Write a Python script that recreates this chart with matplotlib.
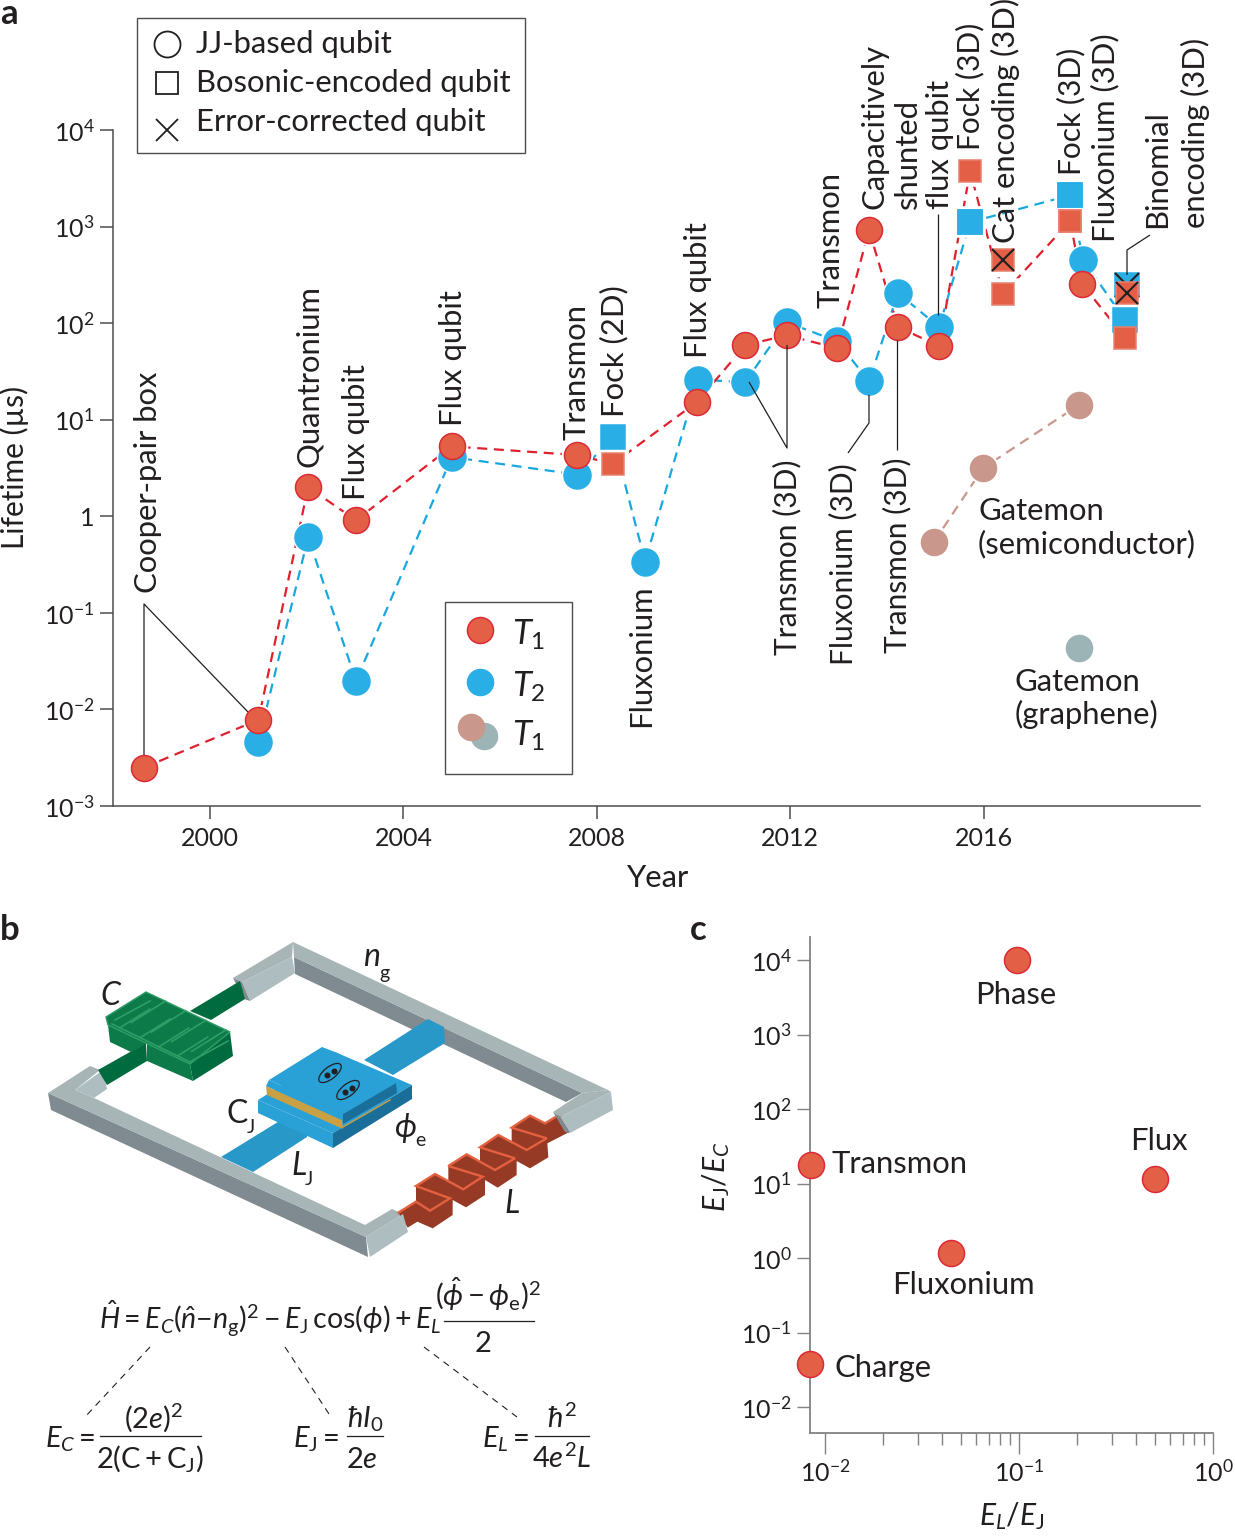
import numpy as np
import matplotlib
matplotlib.use("Agg")
import matplotlib.pyplot as plt
from matplotlib.patches import Polygon, Rectangle, Ellipse

plt.rcParams['font.family'] = ['Lato', 'DejaVu Sans']
plt.rcParams['mathtext.fontset'] = 'custom'
plt.rcParams['mathtext.rm'] = 'Lato'
plt.rcParams['mathtext.it'] = 'Lato:italic'
plt.rcParams['mathtext.bf'] = 'Lato:bold'

W, H = 1235, 1537

# Panel a data (lifetime in microseconds)
t1_years = [1998.63, 2001.0, 2002.03, 2003.02, 2005.0, 2007.6, 2008.33, 2010.07, 2011.07, 2011.93,
            2012.97, 2013.63, 2014.23, 2015.08, 2015.72, 2016.4, 2017.79, 2018.04, 2018.93]
t1_values = [0.0025, 0.0078, 2.0, 0.91, 5.3, 4.3, 3.5, 15.2, 59, 75,
             55, 918, 91, 58, 3750, 200, 1138, 253, 70]
t1_square = [False, False, False, False, False, False, True, False, False, False,
             False, False, False, False, True, True, True, False, True]

t2_years = [2001.0, 2002.03, 2003.02, 2005.0, 2007.6, 2008.33, 2009.0, 2010.09, 2011.07, 2011.93,
            2012.97, 2013.63, 2014.23, 2015.08, 2015.72, 2017.79, 2018.06, 2018.93]
t2_values = [0.0046, 0.61, 0.0197, 4.1, 2.7, 6.6, 0.34, 26, 24.5, 102,
             65, 25, 205, 91, 1110, 2110, 449, 107]
t2_square = [False, False, False, False, False, True, False, False, False, False,
             False, False, False, False, True, True, False, True]

# error-corrected qubits
cat_year, cat_t1 = 2016.4, 449
binomial_year, binomial_t1, binomial_t2 = 2018.97, 205, 247

semi_years = [2014.97, 2015.99, 2017.97]
semi_values = [0.54, 3.16, 14.2]
graphene_year, graphene_value = 2017.97, 0.043

a_ticks_x = [2000, 2004, 2008, 2012, 2016]
a_ticks_y = [1e-3, 1e-2, 1e-1, 1, 1e1, 1e2, 1e3, 1e4]
a_ticks_y_labels = [r'$\mathregular{10^{-3}}$', r'$\mathregular{10^{-2}}$', r'$\mathregular{10^{-1}}$', '1',
                    r'$\mathregular{10^{1}}$', r'$\mathregular{10^{2}}$', r'$\mathregular{10^{3}}$',
                    r'$\mathregular{10^{4}}$']

# Panel c data
regime_names = ['Transmon', 'Phase', 'Flux', 'Fluxonium', 'Charge']
regime_el_ej = [0.00847, 0.0977, 0.502, 0.0446, 0.00837]
regime_ej_ec = [17.7, 10000, 11.5, 1.17, 0.0378]
c_ticks_x = [1e-2, 1e-1, 1]
c_ticks_x_labels = [r'$\mathregular{10^{-2}}$', r'$\mathregular{10^{-1}}$', r'$\mathregular{10^{0}}$']
c_ticks_y = [1e-2, 1e-1, 1, 1e1, 1e2, 1e3, 1e4]
c_ticks_y_labels = [r'$\mathregular{10^{-2}}$', r'$\mathregular{10^{-1}}$', r'$\mathregular{10^{0}}$',
                    r'$\mathregular{10^{1}}$', r'$\mathregular{10^{2}}$', r'$\mathregular{10^{3}}$',
                    r'$\mathregular{10^{4}}$']

RED, RED_EDGE, SQ_EDGE = '#e35f46', '#dc2a35', '#e8806f'
BLUE = '#29afe6'
RED_LINE, BLUE_LINE = '#e0202e', '#18a8e0'
ROSE, GREY = '#c9978c', '#9cb4b6'
TEXT = '#231f20'
PX = 72 / 100  # points per pixel at dpi 100
FS = 22.3


def axes_at(x0, y0, x1, y1):
    return fig.add_axes([x0 / W, 1 - y1 / H, (x1 - x0) / W, (y1 - y0) / H])


def dot(ax, x, y, color, edge=None, size=26, marker='o', z=3):
    ax.plot([x], [y], marker=marker, ms=size * PX, mfc=color, mec=edge or color, mew=1.1,
            ls='none', zorder=z, clip_on=False)


fig = plt.figure(figsize=(W / 100, H / 100), dpi=100)

# ---- panel a
ax = axes_at(113, 130, 1200, 806)
ax.set_yscale('log')
ax.set_ylim(1e-3, 1e4)
ax.set_xlim(2000 + (113 - 210) / 48.35, 2000 + (1200 - 210) / 48.35)
for s in ['top', 'right']:
    ax.spines[s].set_visible(False)
for s in ['left', 'bottom']:
    ax.spines[s].set_color('#4d4d4f')
    ax.spines[s].set_linewidth(1.1)
ax.set_xticks(a_ticks_x)
ax.set_yticks(a_ticks_y)
ax.set_yticklabels(a_ticks_y_labels)
ax.minorticks_off()
ax.tick_params(length=13 * PX, width=1.1, color='#4d4d4f', labelsize=18, labelcolor=TEXT, pad=4)
ax.tick_params(axis='x', pad=6)
ax.patch.set_alpha(0)

dash = (0, (4.5, 3))
ax.plot(t2_years, t2_values, color=BLUE_LINE, lw=1.6, ls=dash, zorder=2)
ax.plot(t1_years, t1_values, color=RED_LINE, lw=1.6, ls=dash, zorder=2)
ax.plot(semi_years, semi_values, color=ROSE, lw=1.6, ls=dash, zorder=2)

# white halo so the dashes stop short of the markers
for xs, ys, sq in [(t2_years, t2_values, t2_square), (t1_years, t1_values, t1_square)]:
    for x, y, s in zip(xs, ys, sq):
        dot(ax, x, y, 'white', size=30, marker='s' if s else 'o', z=2.5)
for x, y in zip(semi_years, semi_values):
    dot(ax, x, y, 'white', size=30, z=2.5)

# binomial T2 stays under everything else at that spot
dot(ax, binomial_year, binomial_t2, BLUE, size=24, marker='s', z=3)
ax.plot([binomial_year], [binomial_t2], marker='x', ms=24 * PX, mec='#231f20', mew=1.5, ls='none', zorder=3.1)
for x, y, s in zip(t2_years, t2_values, t2_square):
    dot(ax, x, y, BLUE, size=24 if s else 27, marker='s' if s else 'o', z=3.2)
for x, y, s in zip(t1_years, t1_values, t1_square):
    if s:
        dot(ax, x, y, RED, SQ_EDGE, size=23, marker='s', z=3.4)
    else:
        dot(ax, x, y, RED, RED_EDGE, size=26, z=3.4)
# fock T2 squares sit on top of the neighbouring T1 where they overlap
dot(ax, t2_years[14], t2_values[14], BLUE, size=24, marker='s', z=3.5)
dot(ax, t2_years[15], t2_values[15], BLUE, size=24, marker='s', z=3.5)
dot(ax, t1_years[16], t1_values[16], RED, SQ_EDGE, size=23, marker='s', z=3.6)

for x, y in [(cat_year, cat_t1), (binomial_year, binomial_t1)]:
    dot(ax, x, y, RED, SQ_EDGE, size=23, marker='s', z=4)
    ax.plot([x], [y], marker='x', ms=23 * PX, mec='#231f20', mew=1.5, ls='none', zorder=4.1)

for x, y in zip(semi_years, semi_values):
    dot(ax, x, y, ROSE, size=26, z=3)
dot(ax, graphene_year, graphene_value, GREY, size=26, z=3)

# ---- panel c
cx = axes_at(810, 937, 1213, 1433)
cx.set_xscale('log')
cx.set_yscale('log')
cx.set_xlim(10 ** (-2 - 15 / 194), 1)
cx.set_ylim(10 ** (-2 - 26 / 74.5), 10 ** (4 + 23 / 74.5))
for s in ['top', 'right']:
    cx.spines[s].set_visible(False)
for s in ['left', 'bottom']:
    cx.spines[s].set_color('#808285')
    cx.spines[s].set_linewidth(1.3)
cx.set_xticks(c_ticks_x)
cx.set_xticklabels(c_ticks_x_labels)
cx.set_xticks([m * d for d in (1e-2, 1e-1) for m in range(2, 10)], minor=True)
cx.set_xticklabels([], minor=True)
cx.set_yticks(c_ticks_y)
cx.set_yticklabels(c_ticks_y_labels)
cx.yaxis.set_minor_locator(matplotlib.ticker.NullLocator())
cx.tick_params(which='major', axis='x', length=21 * PX, width=1.0, color='#808285', labelsize=18, labelcolor=TEXT, pad=4)
cx.tick_params(which='minor', axis='x', length=12 * PX, width=1.0, color='#808285')
cx.tick_params(which='major', axis='y', length=13 * PX, width=1.0, color='#808285', labelsize=18, labelcolor=TEXT, pad=4)
cx.patch.set_alpha(0)
for x, y in zip(regime_el_ej, regime_ej_ec):
    dot(cx, x, y, RED, RED_EDGE, size=26, z=4)

# ---- overlay in image pixels: labels, leader lines, keys and the circuit drawing
ov = fig.add_axes([0, 0, 1, 1], zorder=5)
ov.set_xlim(0, W)
ov.set_ylim(H, 0)
ov.axis('off')


def T(x, y, s, size=FS, ha='left', va='baseline', **kw):
    return ov.text(x, y, s, fontsize=size, ha=ha, va=va, color=TEXT, clip_on=False, **kw)


def V(x, bottom, s, size=FS):
    return ov.text(x, bottom, s, fontsize=size, ha='center', va='bottom', rotation=90, color=TEXT)


def leader(pts, color='#231f20', lw=0.9):
    ov.plot([p[0] for p in pts], [p[1] for p in pts], color=color, lw=lw, solid_capstyle='butt', zorder=6)


for x, b, s in [(148, 593, 'Cooper-pair box'), (309, 467, 'Quantronium'), (356, 500, 'Flux qubit'),
                (453, 426, 'Flux qubit'), (577, 440, 'Transmon'), (614, 417, 'Fock (2D)'),
                (641, 727, 'Fluxonium'), (698, 358, 'Flux qubit'), (830, 308, 'Transmon'),
                (875, 209, 'Capacitively'), (908, 209, 'shunted'), (940, 209, 'flux qubit'),
                (1005, 243, 'Cat encoding (3D)'), (1105, 242, 'Fluxonium (3D)'),
                (1157, 228, 'Binomial'), (1195, 228, 'encoding (3D)')]:
    V(x, b, s)
# these read a little narrower in the reference
for x, b, s in [(970, 150, 'Fock (3D)'), (1071, 175, 'Fock (3D)'), (787, 655, 'Transmon (3D)'),
                (843, 665, 'Fluxonium (3D)'), (897, 653, 'Transmon (3D)')]:
    V(x, b, s, size=21.5)

T(978, 520, 'Gatemon')
T(978, 553, '(semiconductor)')
T(1015, 691, 'Gatemon')
T(1015, 724, '(graphene)')

leader([(144, 755), (144, 604), (248, 712)])
leader([(749, 382), (787, 448), (787, 345)])
leader([(848, 453), (869, 423), (869, 395)])
leader([(897, 340), (897, 450)])
leader([(938, 214), (938, 315)])
leader([(1127, 275), (1127, 250), (1150, 235)])

T(14, 467, 'Lifetime (µs)', size=21.5, ha='center', va='center', rotation=90)
T(657, 878, 'Year', ha='center', va='center')
T(0, 24, 'a', size=25, fontweight='bold')
T(0, 940, 'b', size=25, fontweight='bold')
T(690, 940, 'c', size=25, fontweight='bold')

# key boxes
ov.add_patch(Rectangle((137, 18), 388, 135, fc='white', ec='#4d4d4f', lw=1.0, zorder=1))
ov.plot([167], [44], 'o', ms=26 * PX, mfc='none', mec=TEXT, mew=1.3)
ov.plot([167], [83], 's', ms=23 * PX, mfc='none', mec=TEXT, mew=1.3)
ov.plot([167], [130], 'x', ms=23 * PX, mec=TEXT, mew=1.3)
T(196, 53, 'JJ-based qubit')
T(196, 92, 'Bosonic-encoded qubit')
T(196, 131, 'Error-corrected qubit')

ov.add_patch(Rectangle((445, 602), 127, 172, fc='white', ec='#4d4d4f', lw=1.0, zorder=1))
dot(ov, 480, 630, RED, RED_EDGE)
dot(ov, 480, 682, BLUE)
dot(ov, 484, 736, GREY)
dot(ov, 471, 727, ROSE)
T(512, 645, r'$T_{1}$', size=25)
T(512, 697, r'$T_{2}$', size=25)
T(512, 746, r'$T_{1}$', size=25)

for name, x, y in [('Transmon', 832, 1173), ('Phase', 975, 1004), ('Flux', 1130, 1150),
                   ('Fluxonium', 892, 1294), ('Charge', 835, 1377)]:
    T(x, y, name)
T(716, 1177, r'$E_{\mathrm{J}}/E_{C}$', size=21.5, ha='center', va='center', rotation=90)
T(1012, 1516, r'$E_{L}/E_{\mathrm{J}}$', size=21.5, ha='center', va='center')


def poly(pts, color, edge='none', lw=0.0, z=2):
    ov.add_patch(Polygon(pts, closed=True, fc=color, ec=edge, lw=lw, zorder=z))


def line(pts, color, lw, z=2.6, **kw):
    ov.plot([p[0] for p in pts], [p[1] for p in pts], color=color, lw=lw, zorder=z, **kw)


G_TOP, G_FACE, G_DARK = '#a7b5b7', '#aebdbf', '#7f8b90'
# far and near long bars
poly([(294, 957), (582, 1093), (566, 1102), (295, 974)], G_DARK)
poly([(293, 942), (608, 1090), (582, 1093), (294, 957)], G_TOP)
poly([(48, 1093), (51, 1110), (368, 1257), (366, 1237)], G_DARK)
poly([(48, 1093), (90, 1066), (100, 1070), (75, 1090), (94, 1098), (365, 1225), (392, 1209), (403, 1214), (366, 1237)], G_TOP)
# blue arms run under the bars
BAR = '#2898c8'
poly([(364, 1060), (428, 1019), (444, 1027), (445, 1043), (393, 1075)], BAR, z=2.2)
poly([(221, 1157), (286, 1117), (307, 1123), (307, 1137), (253, 1172)], BAR, z=2.2)
# corners
poly([(293, 942), (233, 978), (242, 982), (292, 957)], G_TOP, z=2.3)
poly([(242, 982), (292, 957), (295, 973), (250, 1001)], G_FACE, z=2.3)
poly([(233, 978), (242, 982), (250, 1001), (244, 999)], G_DARK, z=2.3)
poly([(608, 1090), (582, 1093), (553, 1112), (560, 1117), (611, 1092)], G_TOP, z=2.3)
poly([(560, 1117), (611, 1092), (613, 1110), (570, 1133)], G_FACE, z=2.3)
poly([(553, 1112), (560, 1117), (570, 1133), (565, 1132)], G_DARK, z=2.3)
poly([(75, 1090), (103, 1070), (107, 1089), (94, 1098)], G_FACE, z=2.3)
poly([(366, 1237), (403, 1214), (408, 1232), (370, 1257)], G_FACE, z=2.3)

# capacitor
GREEN_D, GREEN_M, GREEN_L = '#006b3f', '#0d7a49', '#2f9e66'
poly([(190, 1011), (240, 981), (245, 999), (211, 1020)], GREEN_D, z=2.4)
poly([(98, 1070), (107, 1085), (147, 1061), (146, 1043)], GREEN_D, z=2.4)
poly([(108, 1025), (110, 1042), (131, 1052), (147, 1043), (147, 1061), (193, 1081), (190, 1064)], GREEN_M, z=2.5)
poly([(190, 1064), (193, 1081), (233, 1056), (230, 1032)], GREEN_D, z=2.5)
poly([(146, 992), (106, 1017), (108, 1025), (190, 1064), (230, 1032)], GREEN_M, GREEN_L, 1.0, z=2.5)
u0, u_step = np.array((146, 992)), np.array((84, 40))
l0, l_step = np.array((112, 1024)), np.array((78, 38))
finger = np.array((40, -25))
line([l0, l0 + l_step], GREEN_L, 1.2)
for t in [0.23, 0.47, 0.71, 0.95]:
    a = u0 + u_step * t
    line([a, a - finger * 0.85], GREEN_L, 1.2)
for t in [0.1, 0.36, 0.6, 0.84]:
    a = l0 + l_step * t
    line([a, a + finger * 0.75], GREEN_L, 1.2)
line([(150, 1001), (115, 1020)], GREEN_L, 1.2)
line([(190, 1062), (228, 1041)], GREEN_L, 1.2)

# junction stack
J_TOP, J_DARK = '#29a0d6', '#1a6f9a'
poly([(258, 1100), (333, 1133), (412, 1085), (335, 1052)], J_TOP, z=3)
poly([(258, 1100), (258, 1113), (333, 1148), (333, 1133)], J_TOP, z=3)
poly([(333, 1148), (412, 1099), (412, 1085), (333, 1133)], J_DARK, z=3)
poly([(266, 1086), (342, 1120), (343, 1129), (267, 1095)], '#c9a043', z=3.1)
line([(343, 1127), (390, 1100)], '#c9a043', 1.0, z=3.1)
poly([(269, 1080), (266, 1086), (342, 1120), (343, 1114)], J_TOP, z=3.2)
poly([(343, 1114), (396, 1083), (397, 1093), (343, 1124)], J_DARK, z=3.2)
poly([(269, 1080), (322, 1047), (335, 1052), (396, 1083), (343, 1114)], J_TOP, z=3.2)
for ex, ey in [(330, 1073), (348, 1090)]:
    ov.add_patch(Ellipse((ex, ey), 27, 12, angle=-38, fc='none', ec=TEXT, lw=0.9, zorder=3.3))
    ov.plot([ex - 3.5, ex + 3.5], [ey + 2, ey - 2], 'o', color=TEXT, ms=3.3, zorder=3.3)


# inductor, crop coordinates at 3x from (340, 1060)
def crop2(pts):
    return [(340 + x / 3, 1060 + y / 3) for x, y in pts]


IND, IND_LINE = '#963a26', '#e5603f'
poly(crop2([(175, 458), (228, 425), (228, 378), (285, 342), (325, 365), (325, 318), (380, 283), (420, 305),
            (420, 262), (475, 225), (515, 250), (515, 203), (570, 167), (615, 190), (665, 160), (690, 215),
            (622, 250), (625, 292), (570, 325), (530, 303), (530, 345), (473, 383), (435, 360), (435, 405),
            (378, 442), (338, 420), (338, 465), (278, 505), (232, 485), (203, 503)]), IND, z=2.25)
line(crop2([(175, 458), (228, 425), (270, 452), (330, 415), (228, 378), (285, 342), (370, 388), (428, 350),
            (325, 318), (380, 283), (465, 330), (525, 295), (420, 262), (475, 225), (560, 270), (620, 235),
            (515, 203), (570, 167), (615, 190), (665, 160)]), IND_LINE, 1.7, z=2.26, solid_joinstyle='miter')

T(100, 1005, r'$C$', size=23)
T(363, 966, r'$n$', size=23)
T(379, 979, 'g', size=14)
T(226, 1123, 'C', size=23)
T(247, 1133, 'J', size=14)
T(291, 1175, r'$L$', size=23)
T(305, 1185, 'J', size=14)
T(394, 1137, r'$\phi$', size=23)
T(415, 1146, 'e', size=14)
T(504, 1213, r'$L$', size=23)


# ---- hamiltonian
def frac(x0, x1, y):
    ov.plot([x0, x1], [y, y], color=TEXT, lw=0.9)


T(99, 1329, r'$\hat{H}=E_{C}(\hat{n}{-}n_{\mathrm{g}})^{2}-E_{\mathrm{J}}\,\mathrm{cos}(\phi)+E_{L}$', size=20.5)
T(488, 1306, r'$(\hat{\phi}-\phi_{\mathrm{e}})^{2}$', size=21, ha='center')
frac(444, 534, 1321)
T(483, 1352, '2', size=21, ha='center')

T(45, 1447, r'$E_{C}=$', size=21)
T(154, 1428, r'$(2e)^{2}$', size=21, ha='center')
frac(100, 201, 1436)
T(150, 1468, r'$2(\mathrm{C}+\mathrm{C}_{\mathrm{J}})$', size=21, ha='center')

T(293, 1447, r'$E_{\mathrm{J}}=$', size=21)
T(365, 1428, r'$\hbar I_{0}$', size=21, ha='center')
frac(347, 383, 1436)
T(362, 1468, r'$2e$', size=21, ha='center')

T(482, 1447, r'$E_{L}=$', size=21)
T(562, 1428, r'$\hbar^{2}$', size=21, ha='center')
frac(535, 589, 1436)
T(562, 1468, r'$4e^{2}L$', size=21, ha='center')

for pts in [[(150, 1347), (85, 1417)], [(285, 1347), (331, 1417)], [(424, 1347), (517, 1417)]]:
    ov.plot(*zip(*pts), color=TEXT, lw=0.8, ls=(0, (6, 5)))

fig.savefig('out.png', dpi=100)
